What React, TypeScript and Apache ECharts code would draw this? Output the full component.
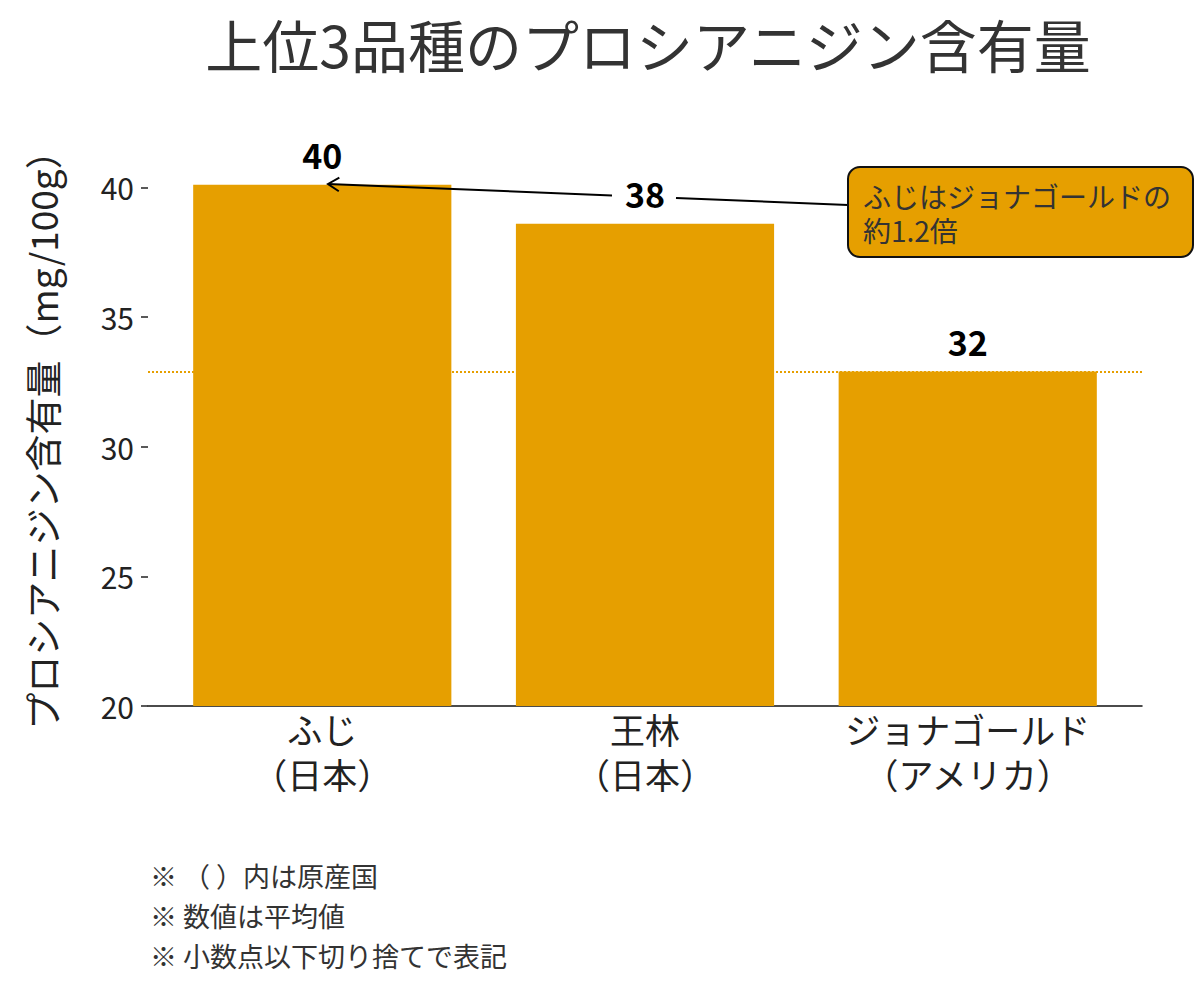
import { useEffect, useRef } from "react"
import * as echarts from "echarts"

// 品種と原産国
const varieties = ["ふじ", "王林", "ジョナゴールド"]
const origins = ["日本", "日本", "アメリカ"]
// プロシアニジン含有量 (mg/100g)
const contents = [40.1, 38.6, 32.9]
const yTicks = [20, 25, 30, 35, 40]
const notes = ["※ （ ）内は原産国", "※ 数値は平均値", "※ 小数点以下切り捨てで表記"]

const FONT = "'Noto Sans CJK JP', 'Noto Sans', sans-serif"
const ORANGE = "#E69F00"

const GRID_LEFT = 148
const GRID_RIGHT = 58
const X_MIN = -0.54
const X_MAX = 2.54

export default function App() {
  const chartRef = useRef<HTMLDivElement | null>(null)

  useEffect(() => {
    document.body.style.margin = "0"
    if (!chartRef.current) return
    const chart = echarts.init(chartRef.current, undefined, { renderer: "svg" })

    const plotWidth = 1200 - GRID_LEFT - GRID_RIGHT
    const barWidth = (plotWidth / (X_MAX - X_MIN)) * 0.8

    // 注釈の矢印 (ボックス -> ふじの棒)
    const tip = [328, 184]
    const start = [848, 205]
    const dx = start[0] - tip[0]
    const dy = start[1] - tip[1]
    const len = Math.sqrt(dx * dx + dy * dy)
    const ux = dx / len
    const uy = dy / len
    const yAt = (x: number) => tip[1] + ((x - tip[0]) / dx) * dy
    const head = (a: number) => {
      const c = Math.cos(a)
      const s = Math.sin(a)
      return [tip[0] + 13 * (ux * c - uy * s), tip[1] + 13 * (ux * s + uy * c)]
    }
    const gapL = 612
    const gapR = 676

    chart.setOption({
      animation: false,
      textStyle: { fontFamily: FONT },
      title: {
        text: "上位3品種のプロシアニジン含有量",
        left: 643,
        top: 9,
        textAlign: "center",
        textStyle: { fontSize: 57, fontWeight: "normal", color: "#333", fontFamily: FONT },
      },
      grid: { left: GRID_LEFT, right: GRID_RIGHT, top: 148.5, bottom: 289 },
      xAxis: {
        type: "value",
        min: X_MIN,
        max: X_MAX,
        splitLine: { show: false },
        axisLine: { show: true, onZero: false, lineStyle: { color: "#111", width: 1.5 } },
        axisTick: { show: false },
        axisLabel: {
          customValues: varieties.map((_, i) => i),
          formatter: (v: number) => `${varieties[v]}\n（${origins[v]}）`,
          fontSize: 35,
          lineHeight: 45,
          color: "#222",
          margin: 0,
          fontFamily: FONT,
        },
      },
      yAxis: {
        type: "value",
        min: 20,
        max: 41.5,
        splitLine: { show: false },
        axisLine: { show: true, onZero: false, lineStyle: { color: "#222", width: 0 } },
        axisTick: {
          show: true,
          inside: false,
          customValues: yTicks,
          length: 7,
          lineStyle: { color: "#222", width: 1.5 },
        },
        axisLabel: { customValues: yTicks, fontSize: 30, color: "#222", margin: 14, fontFamily: FONT },
      },
      series: [
        {
          type: "bar",
          barWidth,
          data: contents.map((v, i) => [i, v]),
          itemStyle: { color: ORANGE },
          label: {
            show: true,
            position: "top",
            distance: 13,
            formatter: (p: any) => String(Math.floor(p.value[1])),
            fontSize: 34,
            fontWeight: "bold",
            color: "#000",
            fontFamily: FONT,
          },
          markLine: {
            silent: true,
            symbol: "none",
            label: { show: false },
            lineStyle: { type: "dotted", color: ORANGE, width: 2 },
            data: [{ yAxis: contents[2] }],
          },
        },
      ],
      graphic: [
        {
          type: "text",
          x: 42,
          y: 431,
          rotation: Math.PI / 2,
          style: {
            text: "プロシアニジン含有量（mg/100g）",
            fontSize: 37,
            fill: "#222",
            align: "center",
            verticalAlign: "middle",
            fontFamily: FONT,
          },
        },
        {
          type: "line",
          z: 10,
          shape: { x1: tip[0], y1: tip[1], x2: gapL, y2: yAt(gapL) },
          style: { stroke: "#000", lineWidth: 2 },
        },
        {
          type: "line",
          z: 10,
          shape: { x1: gapR, y1: yAt(gapR), x2: start[0], y2: start[1] },
          style: { stroke: "#000", lineWidth: 2 },
        },
        {
          type: "polyline",
          z: 10,
          shape: { points: [head(0.55), tip, head(-0.55)] },
          style: { stroke: "#000", lineWidth: 2, fill: "none" },
        },
        {
          type: "rect",
          z: 10,
          shape: { x: 848, y: 167, width: 345, height: 90, r: 12 },
          style: { fill: ORANGE, stroke: "#111", lineWidth: 2 },
        },
        {
          type: "text",
          z: 11,
          x: 863,
          y: 179,
          style: {
            text: "ふじはジョナゴールドの\n約1.2倍",
            fontSize: 28,
            lineHeight: 34,
            fill: "#333",
            fontFamily: FONT,
          },
        },
        ...notes.map((t, i) => ({
          type: "text",
          x: 150,
          y: 862 + i * 40,
          style: { text: t, fontSize: 27, fill: "#333", fontFamily: FONT },
        })),
      ],
    })

    return () => {
      chart.dispose()
    }
  }, [])

  return <div ref={chartRef} style={{ width: 1200, height: 995 }} />
}
